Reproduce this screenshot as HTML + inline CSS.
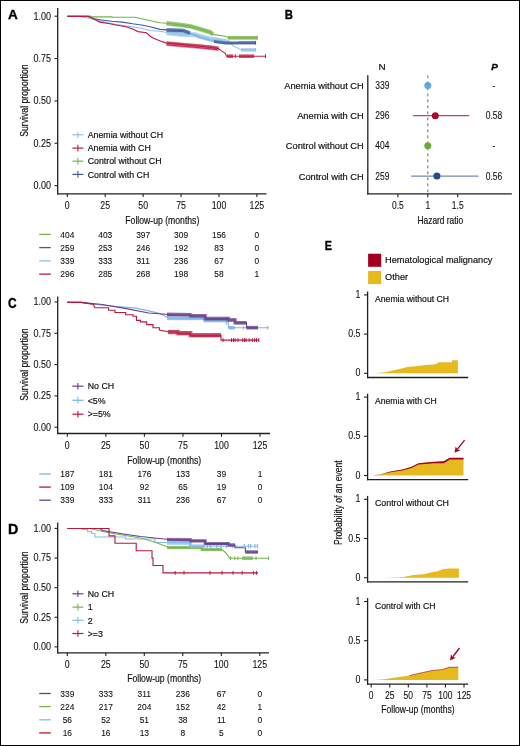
<!DOCTYPE html><html><head><meta charset="utf-8"><style>html,body{margin:0;padding:0;background:#fff;width:520px;height:746px;overflow:hidden}</style></head><body><svg width="520" height="746" viewBox="0 0 520 746" style="position:absolute;left:0;top:0;font-family:'Liberation Sans', sans-serif;will-change:transform">
<rect x="0" y="0" width="520" height="746" fill="#fff"/>
<text x="8.0" y="18.9" font-size="13.6" text-anchor="start" font-weight="bold" font-style="normal" fill="#000" stroke="#000" stroke-width="0.35" textLength="9.8" lengthAdjust="spacingAndGlyphs" >A</text>
<line x1="57.7" y1="8.0" x2="57.7" y2="194.4" stroke="#231f20" stroke-width="1.3" />
<line x1="57.1" y1="193.8" x2="266.5" y2="193.8" stroke="#231f20" stroke-width="1.3" />
<line x1="54.5" y1="16.2" x2="57.7" y2="16.2" stroke="#231f20" stroke-width="1.1" />
<text transform="translate(51.0,19.5) scale(0.85,1)" x="0" y="0" font-size="10.6" text-anchor="end" font-weight="normal" font-style="normal" fill="#111" stroke="#111" stroke-width="0.1" >1.00</text>
<line x1="54.5" y1="58.55" x2="57.7" y2="58.55" stroke="#231f20" stroke-width="1.1" />
<text transform="translate(51.0,61.849999999999994) scale(0.85,1)" x="0" y="0" font-size="10.6" text-anchor="end" font-weight="normal" font-style="normal" fill="#111" stroke="#111" stroke-width="0.1" >0.75</text>
<line x1="54.5" y1="100.9" x2="57.7" y2="100.9" stroke="#231f20" stroke-width="1.1" />
<text transform="translate(51.0,104.2) scale(0.85,1)" x="0" y="0" font-size="10.6" text-anchor="end" font-weight="normal" font-style="normal" fill="#111" stroke="#111" stroke-width="0.1" >0.50</text>
<line x1="54.5" y1="143.25" x2="57.7" y2="143.25" stroke="#231f20" stroke-width="1.1" />
<text transform="translate(51.0,146.55) scale(0.85,1)" x="0" y="0" font-size="10.6" text-anchor="end" font-weight="normal" font-style="normal" fill="#111" stroke="#111" stroke-width="0.1" >0.25</text>
<line x1="54.5" y1="185.6" x2="57.7" y2="185.6" stroke="#231f20" stroke-width="1.1" />
<text transform="translate(51.0,188.9) scale(0.85,1)" x="0" y="0" font-size="10.6" text-anchor="end" font-weight="normal" font-style="normal" fill="#111" stroke="#111" stroke-width="0.1" >0.00</text>
<line x1="67.3" y1="193.8" x2="67.3" y2="197.10000000000002" stroke="#231f20" stroke-width="1.1" />
<text transform="translate(67.3,209.20000000000002) scale(0.85,1)" x="0" y="0" font-size="10.3" text-anchor="middle" font-weight="normal" font-style="normal" fill="#111" stroke="#111" stroke-width="0.1" >0</text>
<line x1="105.22" y1="193.8" x2="105.22" y2="197.10000000000002" stroke="#231f20" stroke-width="1.1" />
<text transform="translate(105.22,209.20000000000002) scale(0.85,1)" x="0" y="0" font-size="10.3" text-anchor="middle" font-weight="normal" font-style="normal" fill="#111" stroke="#111" stroke-width="0.1" >25</text>
<line x1="143.14" y1="193.8" x2="143.14" y2="197.10000000000002" stroke="#231f20" stroke-width="1.1" />
<text transform="translate(143.14,209.20000000000002) scale(0.85,1)" x="0" y="0" font-size="10.3" text-anchor="middle" font-weight="normal" font-style="normal" fill="#111" stroke="#111" stroke-width="0.1" >50</text>
<line x1="181.05999999999997" y1="193.8" x2="181.05999999999997" y2="197.10000000000002" stroke="#231f20" stroke-width="1.1" />
<text transform="translate(181.05999999999997,209.20000000000002) scale(0.85,1)" x="0" y="0" font-size="10.3" text-anchor="middle" font-weight="normal" font-style="normal" fill="#111" stroke="#111" stroke-width="0.1" >75</text>
<line x1="218.97999999999996" y1="193.8" x2="218.97999999999996" y2="197.10000000000002" stroke="#231f20" stroke-width="1.1" />
<text transform="translate(218.97999999999996,209.20000000000002) scale(0.85,1)" x="0" y="0" font-size="10.3" text-anchor="middle" font-weight="normal" font-style="normal" fill="#111" stroke="#111" stroke-width="0.1" >100</text>
<line x1="256.9" y1="193.8" x2="256.9" y2="197.10000000000002" stroke="#231f20" stroke-width="1.1" />
<text transform="translate(256.9,209.20000000000002) scale(0.85,1)" x="0" y="0" font-size="10.3" text-anchor="middle" font-weight="normal" font-style="normal" fill="#111" stroke="#111" stroke-width="0.1" >125</text>
<text x="162.3" y="223.6" font-size="10.8" text-anchor="middle" font-weight="normal" font-style="normal" fill="#111" stroke="#111" stroke-width="0.18" textLength="74" lengthAdjust="spacingAndGlyphs" >Follow-up (months)</text>
<text transform="translate(27.5,100.6) rotate(-90)" x="0" y="0" font-size="10.1" text-anchor="middle" fill="#111" stroke="#111" stroke-width="0.18" textLength="72.4" lengthAdjust="spacingAndGlyphs">Survival proportion</text>
<line x1="39.2" y1="234.4" x2="50.8" y2="234.4" stroke="#76b34a" stroke-width="1.3" />
<text transform="translate(67.3,237.6) scale(0.85,1)" x="0" y="0" font-size="9.9" text-anchor="middle" font-weight="normal" font-style="normal" fill="#111" stroke="#111" stroke-width="0.1" >404</text>
<text transform="translate(105.22,237.6) scale(0.85,1)" x="0" y="0" font-size="9.9" text-anchor="middle" font-weight="normal" font-style="normal" fill="#111" stroke="#111" stroke-width="0.1" >403</text>
<text transform="translate(143.14,237.6) scale(0.85,1)" x="0" y="0" font-size="9.9" text-anchor="middle" font-weight="normal" font-style="normal" fill="#111" stroke="#111" stroke-width="0.1" >397</text>
<text transform="translate(181.05999999999997,237.6) scale(0.85,1)" x="0" y="0" font-size="9.9" text-anchor="middle" font-weight="normal" font-style="normal" fill="#111" stroke="#111" stroke-width="0.1" >309</text>
<text transform="translate(218.97999999999996,237.6) scale(0.85,1)" x="0" y="0" font-size="9.9" text-anchor="middle" font-weight="normal" font-style="normal" fill="#111" stroke="#111" stroke-width="0.1" >156</text>
<text transform="translate(256.9,237.6) scale(0.85,1)" x="0" y="0" font-size="9.9" text-anchor="middle" font-weight="normal" font-style="normal" fill="#111" stroke="#111" stroke-width="0.1" >0</text>
<line x1="39.2" y1="247.6" x2="50.8" y2="247.6" stroke="#3f5c99" stroke-width="1.3" />
<text transform="translate(67.3,250.79999999999998) scale(0.85,1)" x="0" y="0" font-size="9.9" text-anchor="middle" font-weight="normal" font-style="normal" fill="#111" stroke="#111" stroke-width="0.1" >259</text>
<text transform="translate(105.22,250.79999999999998) scale(0.85,1)" x="0" y="0" font-size="9.9" text-anchor="middle" font-weight="normal" font-style="normal" fill="#111" stroke="#111" stroke-width="0.1" >253</text>
<text transform="translate(143.14,250.79999999999998) scale(0.85,1)" x="0" y="0" font-size="9.9" text-anchor="middle" font-weight="normal" font-style="normal" fill="#111" stroke="#111" stroke-width="0.1" >246</text>
<text transform="translate(181.05999999999997,250.79999999999998) scale(0.85,1)" x="0" y="0" font-size="9.9" text-anchor="middle" font-weight="normal" font-style="normal" fill="#111" stroke="#111" stroke-width="0.1" >192</text>
<text transform="translate(218.97999999999996,250.79999999999998) scale(0.85,1)" x="0" y="0" font-size="9.9" text-anchor="middle" font-weight="normal" font-style="normal" fill="#111" stroke="#111" stroke-width="0.1" >83</text>
<text transform="translate(256.9,250.79999999999998) scale(0.85,1)" x="0" y="0" font-size="9.9" text-anchor="middle" font-weight="normal" font-style="normal" fill="#111" stroke="#111" stroke-width="0.1" >0</text>
<line x1="39.2" y1="260.9" x2="50.8" y2="260.9" stroke="#8fc1ea" stroke-width="1.3" />
<text transform="translate(67.3,264.09999999999997) scale(0.85,1)" x="0" y="0" font-size="9.9" text-anchor="middle" font-weight="normal" font-style="normal" fill="#111" stroke="#111" stroke-width="0.1" >339</text>
<text transform="translate(105.22,264.09999999999997) scale(0.85,1)" x="0" y="0" font-size="9.9" text-anchor="middle" font-weight="normal" font-style="normal" fill="#111" stroke="#111" stroke-width="0.1" >333</text>
<text transform="translate(143.14,264.09999999999997) scale(0.85,1)" x="0" y="0" font-size="9.9" text-anchor="middle" font-weight="normal" font-style="normal" fill="#111" stroke="#111" stroke-width="0.1" >311</text>
<text transform="translate(181.05999999999997,264.09999999999997) scale(0.85,1)" x="0" y="0" font-size="9.9" text-anchor="middle" font-weight="normal" font-style="normal" fill="#111" stroke="#111" stroke-width="0.1" >236</text>
<text transform="translate(218.97999999999996,264.09999999999997) scale(0.85,1)" x="0" y="0" font-size="9.9" text-anchor="middle" font-weight="normal" font-style="normal" fill="#111" stroke="#111" stroke-width="0.1" >67</text>
<text transform="translate(256.9,264.09999999999997) scale(0.85,1)" x="0" y="0" font-size="9.9" text-anchor="middle" font-weight="normal" font-style="normal" fill="#111" stroke="#111" stroke-width="0.1" >0</text>
<line x1="39.2" y1="274.1" x2="50.8" y2="274.1" stroke="#be1a45" stroke-width="1.3" />
<text transform="translate(67.3,277.3) scale(0.85,1)" x="0" y="0" font-size="9.9" text-anchor="middle" font-weight="normal" font-style="normal" fill="#111" stroke="#111" stroke-width="0.1" >296</text>
<text transform="translate(105.22,277.3) scale(0.85,1)" x="0" y="0" font-size="9.9" text-anchor="middle" font-weight="normal" font-style="normal" fill="#111" stroke="#111" stroke-width="0.1" >285</text>
<text transform="translate(143.14,277.3) scale(0.85,1)" x="0" y="0" font-size="9.9" text-anchor="middle" font-weight="normal" font-style="normal" fill="#111" stroke="#111" stroke-width="0.1" >268</text>
<text transform="translate(181.05999999999997,277.3) scale(0.85,1)" x="0" y="0" font-size="9.9" text-anchor="middle" font-weight="normal" font-style="normal" fill="#111" stroke="#111" stroke-width="0.1" >198</text>
<text transform="translate(218.97999999999996,277.3) scale(0.85,1)" x="0" y="0" font-size="9.9" text-anchor="middle" font-weight="normal" font-style="normal" fill="#111" stroke="#111" stroke-width="0.1" >58</text>
<text transform="translate(256.9,277.3) scale(0.85,1)" x="0" y="0" font-size="9.9" text-anchor="middle" font-weight="normal" font-style="normal" fill="#111" stroke="#111" stroke-width="0.1" >1</text>
<path d="M67.3,16.4 H91 V16.9 H112 V17.3 H135 L145,19.5 L153,21.3 L160,22.7 L167,23.2 L183,25.1 L191,26.4 L200,29 L210,32 L213,34.4 L226.5,36.4 L228,37.8 H257.5" fill="none" stroke="#76b34a" stroke-width="1.1" stroke-linejoin="miter" />
<path d="M67.3,16.4 H80 L94.6,19.5 L105,22.1 L115.4,24.2 L129.2,26.4 L141.3,28.2 L150,30.5 L160,31.3 L167,32.5 L183,34.3 L195,34.5 L200,36.2 L210,39 L218.5,39.8 L229.2,42.5 L233.3,45.9 L241.3,49.9 H256" fill="none" stroke="#8fc1ea" stroke-width="1.1" stroke-linejoin="miter" />
<path d="M67.3,16.4 H89.4 V16.9 L94.6,18.7 L101.5,20 L112,21.2 L122.3,22.1 L132.7,23.8 L143,25.2 L150,26.8 L160,29.4 L167,29.9 L183,30.5 L190,33 L200,37.5 L214.4,41.5 L225,43 H256" fill="none" stroke="#3f5c99" stroke-width="1.1" stroke-linejoin="miter" />
<path d="M67.3,16.4 H88 L91.2,17.8 L94.6,19.5 L99.8,22.1 L108.5,23.5 L117,25.2 L125.8,26.8 L132.7,29 L138,31.6 L146.5,32.8 L150,36 L153,37.9 L161,41.2 L166.5,43.1 L183,44.6 L200,46.2 L210,47.3 L218.5,48.6 L221.1,50.6 L225.2,53.3 L226.5,56.2 H266" fill="none" stroke="#be1a45" stroke-width="1.1" stroke-linejoin="miter" />
<path d="M166.5,23.4 L183,25.3 L191,26.6 L200,29.2 L210,32.2 L213,34.4" fill="none" stroke="#76b34a" stroke-width="4.6" stroke-opacity="0.5"/>
<path d="M166.5,23.4 L183,25.3 L191,26.6 L200,29.2 L210,32.2 L213,34.4" fill="none" stroke="#76b34a" stroke-width="2.53" stroke-opacity="0.55" transform="translate(0,-0.92)"/>
<path d="M166.5,23.4 L183,25.3 L191,26.6 L200,29.2 L210,32.2 L213,34.4" fill="none" stroke="#76b34a" stroke-width="0.9" transform="translate(0,1.15)"/>
<path d="M228,37.8 H257" fill="none" stroke="#76b34a" stroke-width="3.8" stroke-opacity="0.5"/>
<path d="M228,37.8 H257" fill="none" stroke="#76b34a" stroke-width="2.09" stroke-opacity="0.55" transform="translate(0,-0.76)"/>
<path d="M228,37.8 H257" fill="none" stroke="#76b34a" stroke-width="0.9" transform="translate(0,0.95)"/>
<path d="M166.5,32.7 L183,34.5 L195,34.8 L200,36.5 L210,39.2 L218.5,40.2 L229.2,42.5" fill="none" stroke="#8fc1ea" stroke-width="5.0" stroke-opacity="0.5"/>
<path d="M166.5,32.7 L183,34.5 L195,34.8 L200,36.5 L210,39.2 L218.5,40.2 L229.2,42.5" fill="none" stroke="#8fc1ea" stroke-width="2.75" stroke-opacity="0.55" transform="translate(0,-1.00)"/>
<path d="M166.5,32.7 L183,34.5 L195,34.8 L200,36.5 L210,39.2 L218.5,40.2 L229.2,42.5" fill="none" stroke="#8fc1ea" stroke-width="0.9" transform="translate(0,1.25)"/>
<path d="M241,49.9 H255.5" fill="none" stroke="#8fc1ea" stroke-width="3.4" stroke-opacity="0.5"/>
<path d="M241,49.9 H255.5" fill="none" stroke="#8fc1ea" stroke-width="1.87" stroke-opacity="0.55" transform="translate(0,-0.68)"/>
<path d="M241,49.9 H255.5" fill="none" stroke="#8fc1ea" stroke-width="0.9" transform="translate(0,0.85)"/>
<path d="M166.5,30.0 L183,30.6 L190,33" fill="none" stroke="#3f5c99" stroke-width="3.8" stroke-opacity="0.5"/>
<path d="M166.5,30.0 L183,30.6 L190,33" fill="none" stroke="#3f5c99" stroke-width="2.09" stroke-opacity="0.55" transform="translate(0,-0.76)"/>
<path d="M166.5,30.0 L183,30.6 L190,33" fill="none" stroke="#3f5c99" stroke-width="0.9" transform="translate(0,0.95)"/>
<path d="M214,41.5 L225,43 H238" fill="none" stroke="#3f5c99" stroke-width="3.0" stroke-opacity="0.5"/>
<path d="M214,41.5 L225,43 H238" fill="none" stroke="#3f5c99" stroke-width="1.65" stroke-opacity="0.55" transform="translate(0,-0.60)"/>
<path d="M214,41.5 L225,43 H238" fill="none" stroke="#3f5c99" stroke-width="0.9" transform="translate(0,0.75)"/>
<path d="M238,42.8 H255.5" fill="none" stroke="#3f5c99" stroke-width="3.4" stroke-opacity="0.5"/>
<path d="M238,42.8 H255.5" fill="none" stroke="#3f5c99" stroke-width="1.87" stroke-opacity="0.55" transform="translate(0,-0.68)"/>
<path d="M238,42.8 H255.5" fill="none" stroke="#3f5c99" stroke-width="0.9" transform="translate(0,0.85)"/>
<path d="M166.5,43.6 L183,45.1 L200,46.6 L210,47.6 L218.5,48.8" fill="none" stroke="#be1a45" stroke-width="4.6" stroke-opacity="0.5"/>
<path d="M166.5,43.6 L183,45.1 L200,46.6 L210,47.6 L218.5,48.8" fill="none" stroke="#be1a45" stroke-width="2.53" stroke-opacity="0.55" transform="translate(0,-0.92)"/>
<path d="M166.5,43.6 L183,45.1 L200,46.6 L210,47.6 L218.5,48.8" fill="none" stroke="#be1a45" stroke-width="0.9" transform="translate(0,1.15)"/>
<path d="M227,56.2 H233 M239,56.2 H254" fill="none" stroke="#be1a45" stroke-width="3.4" stroke-opacity="0.5"/>
<path d="M227,56.2 H233 M239,56.2 H254" fill="none" stroke="#be1a45" stroke-width="1.87" stroke-opacity="0.55" transform="translate(0,-0.68)"/>
<path d="M227,56.2 H233 M239,56.2 H254" fill="none" stroke="#be1a45" stroke-width="0.9" transform="translate(0,0.85)"/>
<line x1="257.3" y1="35.9" x2="257.3" y2="39.699999999999996" stroke="#76b34a" stroke-width="1.0" />
<line x1="255.6" y1="40.9" x2="255.6" y2="44.699999999999996" stroke="#3f5c99" stroke-width="1.0" />
<line x1="255.6" y1="48.0" x2="255.6" y2="51.8" stroke="#8fc1ea" stroke-width="1.0" />
<line x1="235.3" y1="54.300000000000004" x2="235.3" y2="58.1" stroke="#be1a45" stroke-width="1.0" />
<line x1="265.5" y1="54.300000000000004" x2="265.5" y2="58.1" stroke="#be1a45" stroke-width="1.0" />
<line x1="72.4" y1="134.8" x2="83.4" y2="134.8" stroke="#8fc1ea" stroke-width="1.2" />
<line x1="77.9" y1="131.5" x2="77.9" y2="138.10000000000002" stroke="#8fc1ea" stroke-width="1.1" />
<text x="87.7" y="138.0" font-size="8.8" text-anchor="start" font-weight="normal" font-style="normal" fill="#111" stroke="#111" stroke-width="0.18" >Anemia without CH</text>
<line x1="72.4" y1="148.1" x2="83.4" y2="148.1" stroke="#be1a45" stroke-width="1.2" />
<line x1="77.9" y1="144.79999999999998" x2="77.9" y2="151.4" stroke="#be1a45" stroke-width="1.1" />
<text x="87.7" y="151.29999999999998" font-size="8.8" text-anchor="start" font-weight="normal" font-style="normal" fill="#111" stroke="#111" stroke-width="0.18" >Anemia with CH</text>
<line x1="72.4" y1="161.2" x2="83.4" y2="161.2" stroke="#76b34a" stroke-width="1.2" />
<line x1="77.9" y1="157.89999999999998" x2="77.9" y2="164.5" stroke="#76b34a" stroke-width="1.1" />
<text x="87.7" y="164.39999999999998" font-size="8.8" text-anchor="start" font-weight="normal" font-style="normal" fill="#111" stroke="#111" stroke-width="0.18" >Control without CH</text>
<line x1="72.4" y1="174.4" x2="83.4" y2="174.4" stroke="#3f5c99" stroke-width="1.2" />
<line x1="77.9" y1="171.1" x2="77.9" y2="177.70000000000002" stroke="#3f5c99" stroke-width="1.1" />
<text x="87.7" y="177.6" font-size="8.8" text-anchor="start" font-weight="normal" font-style="normal" fill="#111" stroke="#111" stroke-width="0.18" >Control with CH</text>
<text x="8.0" y="307.9" font-size="14.2" text-anchor="start" font-weight="bold" font-style="normal" fill="#000" stroke="#000" stroke-width="0.35" textLength="8.6" lengthAdjust="spacingAndGlyphs" >C</text>
<line x1="57.7" y1="296.5" x2="57.7" y2="434.1" stroke="#231f20" stroke-width="1.3" />
<line x1="57.1" y1="433.5" x2="270.0" y2="433.5" stroke="#231f20" stroke-width="1.3" />
<line x1="54.5" y1="302.0" x2="57.7" y2="302.0" stroke="#231f20" stroke-width="1.1" />
<text transform="translate(51.0,305.3) scale(0.85,1)" x="0" y="0" font-size="10.6" text-anchor="end" font-weight="normal" font-style="normal" fill="#111" stroke="#111" stroke-width="0.1" >1.00</text>
<line x1="54.5" y1="333.3" x2="57.7" y2="333.3" stroke="#231f20" stroke-width="1.1" />
<text transform="translate(51.0,336.6) scale(0.85,1)" x="0" y="0" font-size="10.6" text-anchor="end" font-weight="normal" font-style="normal" fill="#111" stroke="#111" stroke-width="0.1" >0.75</text>
<line x1="54.5" y1="364.6" x2="57.7" y2="364.6" stroke="#231f20" stroke-width="1.1" />
<text transform="translate(51.0,367.90000000000003) scale(0.85,1)" x="0" y="0" font-size="10.6" text-anchor="end" font-weight="normal" font-style="normal" fill="#111" stroke="#111" stroke-width="0.1" >0.50</text>
<line x1="54.5" y1="395.9" x2="57.7" y2="395.9" stroke="#231f20" stroke-width="1.1" />
<text transform="translate(51.0,399.2) scale(0.85,1)" x="0" y="0" font-size="10.6" text-anchor="end" font-weight="normal" font-style="normal" fill="#111" stroke="#111" stroke-width="0.1" >0.25</text>
<line x1="54.5" y1="427.2" x2="57.7" y2="427.2" stroke="#231f20" stroke-width="1.1" />
<text transform="translate(51.0,430.5) scale(0.85,1)" x="0" y="0" font-size="10.6" text-anchor="end" font-weight="normal" font-style="normal" fill="#111" stroke="#111" stroke-width="0.1" >0.00</text>
<line x1="67.3" y1="433.5" x2="67.3" y2="436.8" stroke="#231f20" stroke-width="1.1" />
<text transform="translate(67.3,448.7) scale(0.85,1)" x="0" y="0" font-size="10.3" text-anchor="middle" font-weight="normal" font-style="normal" fill="#111" stroke="#111" stroke-width="0.1" >0</text>
<line x1="105.85" y1="433.5" x2="105.85" y2="436.8" stroke="#231f20" stroke-width="1.1" />
<text transform="translate(105.85,448.7) scale(0.85,1)" x="0" y="0" font-size="10.3" text-anchor="middle" font-weight="normal" font-style="normal" fill="#111" stroke="#111" stroke-width="0.1" >25</text>
<line x1="144.39999999999998" y1="433.5" x2="144.39999999999998" y2="436.8" stroke="#231f20" stroke-width="1.1" />
<text transform="translate(144.39999999999998,448.7) scale(0.85,1)" x="0" y="0" font-size="10.3" text-anchor="middle" font-weight="normal" font-style="normal" fill="#111" stroke="#111" stroke-width="0.1" >50</text>
<line x1="182.95" y1="433.5" x2="182.95" y2="436.8" stroke="#231f20" stroke-width="1.1" />
<text transform="translate(182.95,448.7) scale(0.85,1)" x="0" y="0" font-size="10.3" text-anchor="middle" font-weight="normal" font-style="normal" fill="#111" stroke="#111" stroke-width="0.1" >75</text>
<line x1="221.5" y1="433.5" x2="221.5" y2="436.8" stroke="#231f20" stroke-width="1.1" />
<text transform="translate(221.5,448.7) scale(0.85,1)" x="0" y="0" font-size="10.3" text-anchor="middle" font-weight="normal" font-style="normal" fill="#111" stroke="#111" stroke-width="0.1" >100</text>
<line x1="260.04999999999995" y1="433.5" x2="260.04999999999995" y2="436.8" stroke="#231f20" stroke-width="1.1" />
<text transform="translate(260.04999999999995,448.7) scale(0.85,1)" x="0" y="0" font-size="10.3" text-anchor="middle" font-weight="normal" font-style="normal" fill="#111" stroke="#111" stroke-width="0.1" >125</text>
<text x="164.2" y="463.5" font-size="10.8" text-anchor="middle" font-weight="normal" font-style="normal" fill="#111" stroke="#111" stroke-width="0.18" textLength="74" lengthAdjust="spacingAndGlyphs" >Follow-up (months)</text>
<text transform="translate(27.5,364.6) rotate(-90)" x="0" y="0" font-size="10.1" text-anchor="middle" fill="#111" stroke="#111" stroke-width="0.18" textLength="72.4" lengthAdjust="spacingAndGlyphs">Survival proportion</text>
<line x1="39.2" y1="474.0" x2="50.8" y2="474.0" stroke="#7ab5e6" stroke-width="1.3" />
<text transform="translate(67.3,477.2) scale(0.85,1)" x="0" y="0" font-size="9.9" text-anchor="middle" font-weight="normal" font-style="normal" fill="#111" stroke="#111" stroke-width="0.1" >187</text>
<text transform="translate(105.85,477.2) scale(0.85,1)" x="0" y="0" font-size="9.9" text-anchor="middle" font-weight="normal" font-style="normal" fill="#111" stroke="#111" stroke-width="0.1" >181</text>
<text transform="translate(144.39999999999998,477.2) scale(0.85,1)" x="0" y="0" font-size="9.9" text-anchor="middle" font-weight="normal" font-style="normal" fill="#111" stroke="#111" stroke-width="0.1" >176</text>
<text transform="translate(182.95,477.2) scale(0.85,1)" x="0" y="0" font-size="9.9" text-anchor="middle" font-weight="normal" font-style="normal" fill="#111" stroke="#111" stroke-width="0.1" >133</text>
<text transform="translate(221.5,477.2) scale(0.85,1)" x="0" y="0" font-size="9.9" text-anchor="middle" font-weight="normal" font-style="normal" fill="#111" stroke="#111" stroke-width="0.1" >39</text>
<text transform="translate(260.04999999999995,477.2) scale(0.85,1)" x="0" y="0" font-size="9.9" text-anchor="middle" font-weight="normal" font-style="normal" fill="#111" stroke="#111" stroke-width="0.1" >1</text>
<line x1="39.2" y1="487.1" x2="50.8" y2="487.1" stroke="#b8173f" stroke-width="1.3" />
<text transform="translate(67.3,490.3) scale(0.85,1)" x="0" y="0" font-size="9.9" text-anchor="middle" font-weight="normal" font-style="normal" fill="#111" stroke="#111" stroke-width="0.1" >109</text>
<text transform="translate(105.85,490.3) scale(0.85,1)" x="0" y="0" font-size="9.9" text-anchor="middle" font-weight="normal" font-style="normal" fill="#111" stroke="#111" stroke-width="0.1" >104</text>
<text transform="translate(144.39999999999998,490.3) scale(0.85,1)" x="0" y="0" font-size="9.9" text-anchor="middle" font-weight="normal" font-style="normal" fill="#111" stroke="#111" stroke-width="0.1" >92</text>
<text transform="translate(182.95,490.3) scale(0.85,1)" x="0" y="0" font-size="9.9" text-anchor="middle" font-weight="normal" font-style="normal" fill="#111" stroke="#111" stroke-width="0.1" >65</text>
<text transform="translate(221.5,490.3) scale(0.85,1)" x="0" y="0" font-size="9.9" text-anchor="middle" font-weight="normal" font-style="normal" fill="#111" stroke="#111" stroke-width="0.1" >19</text>
<text transform="translate(260.04999999999995,490.3) scale(0.85,1)" x="0" y="0" font-size="9.9" text-anchor="middle" font-weight="normal" font-style="normal" fill="#111" stroke="#111" stroke-width="0.1" >0</text>
<line x1="39.2" y1="500.2" x2="50.8" y2="500.2" stroke="#673f8c" stroke-width="1.3" />
<text transform="translate(67.3,503.4) scale(0.85,1)" x="0" y="0" font-size="9.9" text-anchor="middle" font-weight="normal" font-style="normal" fill="#111" stroke="#111" stroke-width="0.1" >339</text>
<text transform="translate(105.85,503.4) scale(0.85,1)" x="0" y="0" font-size="9.9" text-anchor="middle" font-weight="normal" font-style="normal" fill="#111" stroke="#111" stroke-width="0.1" >333</text>
<text transform="translate(144.39999999999998,503.4) scale(0.85,1)" x="0" y="0" font-size="9.9" text-anchor="middle" font-weight="normal" font-style="normal" fill="#111" stroke="#111" stroke-width="0.1" >311</text>
<text transform="translate(182.95,503.4) scale(0.85,1)" x="0" y="0" font-size="9.9" text-anchor="middle" font-weight="normal" font-style="normal" fill="#111" stroke="#111" stroke-width="0.1" >236</text>
<text transform="translate(221.5,503.4) scale(0.85,1)" x="0" y="0" font-size="9.9" text-anchor="middle" font-weight="normal" font-style="normal" fill="#111" stroke="#111" stroke-width="0.1" >67</text>
<text transform="translate(260.04999999999995,503.4) scale(0.85,1)" x="0" y="0" font-size="9.9" text-anchor="middle" font-weight="normal" font-style="normal" fill="#111" stroke="#111" stroke-width="0.1" >0</text>
<path d="M67.3,302.4 H81 L102.3,305.2 L136,308.1 L148.8,310.9 L160,313.5 L169,318.3 L205,318.3 V320.5 H228.4 V327.7 H268.7" fill="none" stroke="#7ab5e6" stroke-width="1.1" stroke-linejoin="miter" />
<path d="M67.3,302.4 H81 L102.3,304.5 L123.5,308.1 L148.8,313 L169,314.5 L190.4,314.8 V315.9 H205.2 V318.6 H228.5 V320 H235 V322.8 H246.5 V327.7 H258" fill="none" stroke="#673f8c" stroke-width="1.1" stroke-linejoin="miter" />
<path d="M67.3,302.4 H81 L93.8,304.5 V305.5 L95,307.8 H108.6 V310.2 H115 V312.5 H125.6 V314.7 H133 V316.2 H136.5 V320.4 H140.4 V321.9 H146.7 V324.6 H153 V327.8 H159.4 V330 L169,332 H177.7 V333.2 H190.4 V335.3 H221 V340.1 H259" fill="none" stroke="#b8173f" stroke-width="1.1" stroke-linejoin="miter" />
<path d="M167,318.3 H205 V320.5 H228" fill="none" stroke="#7ab5e6" stroke-width="3.8" stroke-opacity="0.5"/>
<path d="M167,318.3 H205 V320.5 H228" fill="none" stroke="#7ab5e6" stroke-width="2.09" stroke-opacity="0.55" transform="translate(0,-0.76)"/>
<path d="M167,318.3 H205 V320.5 H228" fill="none" stroke="#7ab5e6" stroke-width="0.9" transform="translate(0,0.95)"/>
<path d="M228.5,327.7 H235" fill="none" stroke="#7ab5e6" stroke-width="3.4" stroke-opacity="0.5"/>
<path d="M228.5,327.7 H235" fill="none" stroke="#7ab5e6" stroke-width="1.87" stroke-opacity="0.55" transform="translate(0,-0.68)"/>
<path d="M228.5,327.7 H235" fill="none" stroke="#7ab5e6" stroke-width="0.9" transform="translate(0,0.85)"/>
<line x1="226.4" y1="320.90000000000003" x2="226.4" y2="324.7" stroke="#7ab5e6" stroke-width="1.0" />
<line x1="243.3" y1="325.8" x2="243.3" y2="329.59999999999997" stroke="#7ab5e6" stroke-width="1.0" />
<path d="M167,314.5 L190.4,314.8 V315.9 H205.2 V318.6 H228.5 V320 H235 V322.8 H246.5 M246.5,327.7 H258" fill="none" stroke="#673f8c" stroke-width="3.8" stroke-opacity="0.5"/>
<path d="M167,314.5 L190.4,314.8 V315.9 H205.2 V318.6 H228.5 V320 H235 V322.8 H246.5 M246.5,327.7 H258" fill="none" stroke="#673f8c" stroke-width="2.09" stroke-opacity="0.55" transform="translate(0,-0.76)"/>
<path d="M167,314.5 L190.4,314.8 V315.9 H205.2 V318.6 H228.5 V320 H235 V322.8 H246.5 M246.5,327.7 H258" fill="none" stroke="#673f8c" stroke-width="0.9" transform="translate(0,0.95)"/>
<path d="M167.9,332 H177.7 V333.2 H190.4 V335.3 H221" fill="none" stroke="#b8173f" stroke-width="4.4" stroke-opacity="0.5"/>
<path d="M167.9,332 H177.7 V333.2 H190.4 V335.3 H221" fill="none" stroke="#b8173f" stroke-width="2.42" stroke-opacity="0.55" transform="translate(0,-0.88)"/>
<path d="M167.9,332 H177.7 V333.2 H190.4 V335.3 H221" fill="none" stroke="#b8173f" stroke-width="0.9" transform="translate(0,1.10)"/>
<line x1="223" y1="338.20000000000005" x2="223" y2="342.0" stroke="#b8173f" stroke-width="1.0" />
<line x1="231.5" y1="338.20000000000005" x2="231.5" y2="342.0" stroke="#b8173f" stroke-width="1.0" />
<line x1="233.5" y1="338.20000000000005" x2="233.5" y2="342.0" stroke="#b8173f" stroke-width="1.0" />
<line x1="235" y1="338.20000000000005" x2="235" y2="342.0" stroke="#b8173f" stroke-width="1.0" />
<line x1="238" y1="338.20000000000005" x2="238" y2="342.0" stroke="#b8173f" stroke-width="1.0" />
<line x1="242.7" y1="338.20000000000005" x2="242.7" y2="342.0" stroke="#b8173f" stroke-width="1.0" />
<line x1="244.5" y1="338.20000000000005" x2="244.5" y2="342.0" stroke="#b8173f" stroke-width="1.0" />
<line x1="246" y1="338.20000000000005" x2="246" y2="342.0" stroke="#b8173f" stroke-width="1.0" />
<line x1="249.2" y1="338.20000000000005" x2="249.2" y2="342.0" stroke="#b8173f" stroke-width="1.0" />
<line x1="252.3" y1="338.20000000000005" x2="252.3" y2="342.0" stroke="#b8173f" stroke-width="1.0" />
<line x1="254.6" y1="338.20000000000005" x2="254.6" y2="342.0" stroke="#b8173f" stroke-width="1.0" />
<line x1="256.5" y1="338.20000000000005" x2="256.5" y2="342.0" stroke="#b8173f" stroke-width="1.0" />
<line x1="258.8" y1="338.20000000000005" x2="258.8" y2="342.0" stroke="#b8173f" stroke-width="1.0" />
<line x1="267.7" y1="325.8" x2="267.7" y2="329.59999999999997" stroke="#7ab5e6" stroke-width="1.0" />
<line x1="231" y1="325.8" x2="231" y2="329.59999999999997" stroke="#7ab5e6" stroke-width="1.0" />
<line x1="72.4" y1="386.2" x2="83.4" y2="386.2" stroke="#673f8c" stroke-width="1.2" />
<line x1="77.9" y1="382.9" x2="77.9" y2="389.5" stroke="#673f8c" stroke-width="1.1" />
<text x="87.7" y="389.4" font-size="8.8" text-anchor="start" font-weight="normal" font-style="normal" fill="#111" stroke="#111" stroke-width="0.18" >No CH</text>
<line x1="72.4" y1="400.3" x2="83.4" y2="400.3" stroke="#7ab5e6" stroke-width="1.2" />
<line x1="77.9" y1="397.0" x2="77.9" y2="403.6" stroke="#7ab5e6" stroke-width="1.1" />
<text x="87.7" y="403.5" font-size="8.8" text-anchor="start" font-weight="normal" font-style="normal" fill="#111" stroke="#111" stroke-width="0.18" >&lt;5%</text>
<line x1="72.4" y1="414.2" x2="83.4" y2="414.2" stroke="#b8173f" stroke-width="1.2" />
<line x1="77.9" y1="410.9" x2="77.9" y2="417.5" stroke="#b8173f" stroke-width="1.1" />
<text x="87.7" y="417.4" font-size="8.8" text-anchor="start" font-weight="normal" font-style="normal" fill="#111" stroke="#111" stroke-width="0.18" >&gt;=5%</text>
<text x="8.0" y="533.7" font-size="14.2" text-anchor="start" font-weight="bold" font-style="normal" fill="#000" stroke="#000" stroke-width="0.35" >D</text>
<line x1="57.7" y1="522.4" x2="57.7" y2="653.4" stroke="#231f20" stroke-width="1.3" />
<line x1="57.1" y1="652.8" x2="269.0" y2="652.8" stroke="#231f20" stroke-width="1.3" />
<line x1="54.5" y1="528.4" x2="57.7" y2="528.4" stroke="#231f20" stroke-width="1.1" />
<text transform="translate(51.0,531.6999999999999) scale(0.85,1)" x="0" y="0" font-size="10.6" text-anchor="end" font-weight="normal" font-style="normal" fill="#111" stroke="#111" stroke-width="0.1" >1.00</text>
<line x1="54.5" y1="558.025" x2="57.7" y2="558.025" stroke="#231f20" stroke-width="1.1" />
<text transform="translate(51.0,561.3249999999999) scale(0.85,1)" x="0" y="0" font-size="10.6" text-anchor="end" font-weight="normal" font-style="normal" fill="#111" stroke="#111" stroke-width="0.1" >0.75</text>
<line x1="54.5" y1="587.65" x2="57.7" y2="587.65" stroke="#231f20" stroke-width="1.1" />
<text transform="translate(51.0,590.9499999999999) scale(0.85,1)" x="0" y="0" font-size="10.6" text-anchor="end" font-weight="normal" font-style="normal" fill="#111" stroke="#111" stroke-width="0.1" >0.50</text>
<line x1="54.5" y1="617.275" x2="57.7" y2="617.275" stroke="#231f20" stroke-width="1.1" />
<text transform="translate(51.0,620.5749999999999) scale(0.85,1)" x="0" y="0" font-size="10.6" text-anchor="end" font-weight="normal" font-style="normal" fill="#111" stroke="#111" stroke-width="0.1" >0.25</text>
<line x1="54.5" y1="646.9" x2="57.7" y2="646.9" stroke="#231f20" stroke-width="1.1" />
<text transform="translate(51.0,650.1999999999999) scale(0.85,1)" x="0" y="0" font-size="10.6" text-anchor="end" font-weight="normal" font-style="normal" fill="#111" stroke="#111" stroke-width="0.1" >0.00</text>
<line x1="67.3" y1="652.8" x2="67.3" y2="656.0999999999999" stroke="#231f20" stroke-width="1.1" />
<text transform="translate(67.3,668.3) scale(0.85,1)" x="0" y="0" font-size="10.3" text-anchor="middle" font-weight="normal" font-style="normal" fill="#111" stroke="#111" stroke-width="0.1" >0</text>
<line x1="105.8" y1="652.8" x2="105.8" y2="656.0999999999999" stroke="#231f20" stroke-width="1.1" />
<text transform="translate(105.8,668.3) scale(0.85,1)" x="0" y="0" font-size="10.3" text-anchor="middle" font-weight="normal" font-style="normal" fill="#111" stroke="#111" stroke-width="0.1" >25</text>
<line x1="144.3" y1="652.8" x2="144.3" y2="656.0999999999999" stroke="#231f20" stroke-width="1.1" />
<text transform="translate(144.3,668.3) scale(0.85,1)" x="0" y="0" font-size="10.3" text-anchor="middle" font-weight="normal" font-style="normal" fill="#111" stroke="#111" stroke-width="0.1" >50</text>
<line x1="182.8" y1="652.8" x2="182.8" y2="656.0999999999999" stroke="#231f20" stroke-width="1.1" />
<text transform="translate(182.8,668.3) scale(0.85,1)" x="0" y="0" font-size="10.3" text-anchor="middle" font-weight="normal" font-style="normal" fill="#111" stroke="#111" stroke-width="0.1" >75</text>
<line x1="221.3" y1="652.8" x2="221.3" y2="656.0999999999999" stroke="#231f20" stroke-width="1.1" />
<text transform="translate(221.3,668.3) scale(0.85,1)" x="0" y="0" font-size="10.3" text-anchor="middle" font-weight="normal" font-style="normal" fill="#111" stroke="#111" stroke-width="0.1" >100</text>
<line x1="259.8" y1="652.8" x2="259.8" y2="656.0999999999999" stroke="#231f20" stroke-width="1.1" />
<text transform="translate(259.8,668.3) scale(0.85,1)" x="0" y="0" font-size="10.3" text-anchor="middle" font-weight="normal" font-style="normal" fill="#111" stroke="#111" stroke-width="0.1" >125</text>
<text x="164.2" y="681.8" font-size="10.8" text-anchor="middle" font-weight="normal" font-style="normal" fill="#111" stroke="#111" stroke-width="0.18" textLength="74" lengthAdjust="spacingAndGlyphs" >Follow-up (months)</text>
<text transform="translate(27.5,587.6) rotate(-90)" x="0" y="0" font-size="10.1" text-anchor="middle" fill="#111" stroke="#111" stroke-width="0.18" textLength="72.4" lengthAdjust="spacingAndGlyphs">Survival proportion</text>
<line x1="39.2" y1="693.5" x2="50.8" y2="693.5" stroke="#673f8c" stroke-width="1.3" />
<text transform="translate(67.3,696.7) scale(0.85,1)" x="0" y="0" font-size="9.9" text-anchor="middle" font-weight="normal" font-style="normal" fill="#111" stroke="#111" stroke-width="0.1" >339</text>
<text transform="translate(105.8,696.7) scale(0.85,1)" x="0" y="0" font-size="9.9" text-anchor="middle" font-weight="normal" font-style="normal" fill="#111" stroke="#111" stroke-width="0.1" >333</text>
<text transform="translate(144.3,696.7) scale(0.85,1)" x="0" y="0" font-size="9.9" text-anchor="middle" font-weight="normal" font-style="normal" fill="#111" stroke="#111" stroke-width="0.1" >311</text>
<text transform="translate(182.8,696.7) scale(0.85,1)" x="0" y="0" font-size="9.9" text-anchor="middle" font-weight="normal" font-style="normal" fill="#111" stroke="#111" stroke-width="0.1" >236</text>
<text transform="translate(221.3,696.7) scale(0.85,1)" x="0" y="0" font-size="9.9" text-anchor="middle" font-weight="normal" font-style="normal" fill="#111" stroke="#111" stroke-width="0.1" >67</text>
<text transform="translate(259.8,696.7) scale(0.85,1)" x="0" y="0" font-size="9.9" text-anchor="middle" font-weight="normal" font-style="normal" fill="#111" stroke="#111" stroke-width="0.1" >0</text>
<line x1="39.2" y1="706.6" x2="50.8" y2="706.6" stroke="#78b54c" stroke-width="1.3" />
<text transform="translate(67.3,709.8000000000001) scale(0.85,1)" x="0" y="0" font-size="9.9" text-anchor="middle" font-weight="normal" font-style="normal" fill="#111" stroke="#111" stroke-width="0.1" >224</text>
<text transform="translate(105.8,709.8000000000001) scale(0.85,1)" x="0" y="0" font-size="9.9" text-anchor="middle" font-weight="normal" font-style="normal" fill="#111" stroke="#111" stroke-width="0.1" >217</text>
<text transform="translate(144.3,709.8000000000001) scale(0.85,1)" x="0" y="0" font-size="9.9" text-anchor="middle" font-weight="normal" font-style="normal" fill="#111" stroke="#111" stroke-width="0.1" >204</text>
<text transform="translate(182.8,709.8000000000001) scale(0.85,1)" x="0" y="0" font-size="9.9" text-anchor="middle" font-weight="normal" font-style="normal" fill="#111" stroke="#111" stroke-width="0.1" >152</text>
<text transform="translate(221.3,709.8000000000001) scale(0.85,1)" x="0" y="0" font-size="9.9" text-anchor="middle" font-weight="normal" font-style="normal" fill="#111" stroke="#111" stroke-width="0.1" >42</text>
<text transform="translate(259.8,709.8000000000001) scale(0.85,1)" x="0" y="0" font-size="9.9" text-anchor="middle" font-weight="normal" font-style="normal" fill="#111" stroke="#111" stroke-width="0.1" >1</text>
<line x1="39.2" y1="719.8" x2="50.8" y2="719.8" stroke="#86bdea" stroke-width="1.3" />
<text transform="translate(67.3,723.0) scale(0.85,1)" x="0" y="0" font-size="9.9" text-anchor="middle" font-weight="normal" font-style="normal" fill="#111" stroke="#111" stroke-width="0.1" >56</text>
<text transform="translate(105.8,723.0) scale(0.85,1)" x="0" y="0" font-size="9.9" text-anchor="middle" font-weight="normal" font-style="normal" fill="#111" stroke="#111" stroke-width="0.1" >52</text>
<text transform="translate(144.3,723.0) scale(0.85,1)" x="0" y="0" font-size="9.9" text-anchor="middle" font-weight="normal" font-style="normal" fill="#111" stroke="#111" stroke-width="0.1" >51</text>
<text transform="translate(182.8,723.0) scale(0.85,1)" x="0" y="0" font-size="9.9" text-anchor="middle" font-weight="normal" font-style="normal" fill="#111" stroke="#111" stroke-width="0.1" >38</text>
<text transform="translate(221.3,723.0) scale(0.85,1)" x="0" y="0" font-size="9.9" text-anchor="middle" font-weight="normal" font-style="normal" fill="#111" stroke="#111" stroke-width="0.1" >11</text>
<text transform="translate(259.8,723.0) scale(0.85,1)" x="0" y="0" font-size="9.9" text-anchor="middle" font-weight="normal" font-style="normal" fill="#111" stroke="#111" stroke-width="0.1" >0</text>
<line x1="39.2" y1="732.9" x2="50.8" y2="732.9" stroke="#b8173f" stroke-width="1.3" />
<text transform="translate(67.3,736.1) scale(0.85,1)" x="0" y="0" font-size="9.9" text-anchor="middle" font-weight="normal" font-style="normal" fill="#111" stroke="#111" stroke-width="0.1" >16</text>
<text transform="translate(105.8,736.1) scale(0.85,1)" x="0" y="0" font-size="9.9" text-anchor="middle" font-weight="normal" font-style="normal" fill="#111" stroke="#111" stroke-width="0.1" >16</text>
<text transform="translate(144.3,736.1) scale(0.85,1)" x="0" y="0" font-size="9.9" text-anchor="middle" font-weight="normal" font-style="normal" fill="#111" stroke="#111" stroke-width="0.1" >13</text>
<text transform="translate(182.8,736.1) scale(0.85,1)" x="0" y="0" font-size="9.9" text-anchor="middle" font-weight="normal" font-style="normal" fill="#111" stroke="#111" stroke-width="0.1" >8</text>
<text transform="translate(221.3,736.1) scale(0.85,1)" x="0" y="0" font-size="9.9" text-anchor="middle" font-weight="normal" font-style="normal" fill="#111" stroke="#111" stroke-width="0.1" >5</text>
<text transform="translate(259.8,736.1) scale(0.85,1)" x="0" y="0" font-size="9.9" text-anchor="middle" font-weight="normal" font-style="normal" fill="#111" stroke="#111" stroke-width="0.1" >0</text>
<path d="M67.3,528.5 H82.2 V529.5 H87.5 V531.6 H91.7 V533.5 H94.9 V537 H125.6 V539 H155 V542.5 H190.4 V546.2 H258" fill="none" stroke="#86bdea" stroke-width="1.1" stroke-linejoin="miter" />
<path d="M67.3,528.5 H90 L108.7,532.7 L140.4,538 L155.2,542.2 L169,547.5 H202 V549.5 H222 L226,553 L229,557 V558.2 H268.7" fill="none" stroke="#78b54c" stroke-width="1.1" stroke-linejoin="miter" />
<path d="M67.3,528.5 H100 L102.3,530.5 L123.5,534 L140.4,536.5 L169,539.5 L190.4,539.8 V540.9 H205.2 V543.6 H228.5 V545 H235 V547.8 H245.4 V552 H258" fill="none" stroke="#673f8c" stroke-width="1.1" stroke-linejoin="miter" />
<path d="M67.3,528.5 H109 V535.9 H115 V543.3 H136.2 V550.7 H152 V558.1 H153 V565.5 H163 V572.9 H258" fill="none" stroke="#b8173f" stroke-width="1.1" stroke-linejoin="miter" />
<path d="M167,547.5 H202 V549.5 H222" fill="none" stroke="#78b54c" stroke-width="3.4" stroke-opacity="0.5"/>
<path d="M167,547.5 H202 V549.5 H222" fill="none" stroke="#78b54c" stroke-width="1.87" stroke-opacity="0.55" transform="translate(0,-0.68)"/>
<path d="M167,547.5 H202 V549.5 H222" fill="none" stroke="#78b54c" stroke-width="0.9" transform="translate(0,0.85)"/>
<path d="M242.2,558.2 H252.8" fill="none" stroke="#78b54c" stroke-width="3.6" stroke-opacity="0.5"/>
<path d="M242.2,558.2 H252.8" fill="none" stroke="#78b54c" stroke-width="1.98" stroke-opacity="0.55" transform="translate(0,-0.72)"/>
<path d="M242.2,558.2 H252.8" fill="none" stroke="#78b54c" stroke-width="0.9" transform="translate(0,0.90)"/>
<line x1="230.6" y1="556.3000000000001" x2="230.6" y2="560.1" stroke="#78b54c" stroke-width="1.0" />
<line x1="234.8" y1="556.3000000000001" x2="234.8" y2="560.1" stroke="#78b54c" stroke-width="1.0" />
<line x1="238" y1="556.3000000000001" x2="238" y2="560.1" stroke="#78b54c" stroke-width="1.0" />
<line x1="256" y1="556.3000000000001" x2="256" y2="560.1" stroke="#78b54c" stroke-width="1.0" />
<path d="M167,543 H190.4 V546.2 H205" fill="none" stroke="#86bdea" stroke-width="3.6" stroke-opacity="0.5"/>
<path d="M167,543 H190.4 V546.2 H205" fill="none" stroke="#86bdea" stroke-width="1.98" stroke-opacity="0.55" transform="translate(0,-0.72)"/>
<path d="M167,543 H190.4 V546.2 H205" fill="none" stroke="#86bdea" stroke-width="0.9" transform="translate(0,0.90)"/>
<line x1="207.3" y1="544.1" x2="207.3" y2="548.3000000000001" stroke="#86bdea" stroke-width="1.3" />
<line x1="210.5" y1="544.1" x2="210.5" y2="548.3000000000001" stroke="#86bdea" stroke-width="1.3" />
<line x1="216.8" y1="544.1" x2="216.8" y2="548.3000000000001" stroke="#86bdea" stroke-width="1.3" />
<line x1="221" y1="544.1" x2="221" y2="548.3000000000001" stroke="#86bdea" stroke-width="1.3" />
<line x1="226.3" y1="544.1" x2="226.3" y2="548.3000000000001" stroke="#86bdea" stroke-width="1.3" />
<line x1="232.7" y1="544.1" x2="232.7" y2="548.3000000000001" stroke="#86bdea" stroke-width="1.3" />
<line x1="244.3" y1="544.1" x2="244.3" y2="548.3000000000001" stroke="#86bdea" stroke-width="1.3" />
<line x1="248.6" y1="544.1" x2="248.6" y2="548.3000000000001" stroke="#86bdea" stroke-width="1.3" />
<line x1="250.7" y1="544.1" x2="250.7" y2="548.3000000000001" stroke="#86bdea" stroke-width="1.3" />
<line x1="254.9" y1="544.1" x2="254.9" y2="548.3000000000001" stroke="#86bdea" stroke-width="1.3" />
<line x1="257.5" y1="544.1" x2="257.5" y2="548.3000000000001" stroke="#86bdea" stroke-width="1.3" />
<path d="M167,539.5 L190.4,539.8 V540.9 H205.2 V543.6 H228.5 V545 H235 M245.4,552 H258" fill="none" stroke="#673f8c" stroke-width="3.4" stroke-opacity="0.5"/>
<path d="M167,539.5 L190.4,539.8 V540.9 H205.2 V543.6 H228.5 V545 H235 M245.4,552 H258" fill="none" stroke="#673f8c" stroke-width="1.87" stroke-opacity="0.55" transform="translate(0,-0.68)"/>
<path d="M167,539.5 L190.4,539.8 V540.9 H205.2 V543.6 H228.5 V545 H235 M245.4,552 H258" fill="none" stroke="#673f8c" stroke-width="0.9" transform="translate(0,0.85)"/>
<line x1="175.2" y1="571.0" x2="175.2" y2="574.8" stroke="#b8173f" stroke-width="1.0" />
<line x1="184" y1="571.0" x2="184" y2="574.8" stroke="#b8173f" stroke-width="1.0" />
<line x1="210" y1="571.0" x2="210" y2="574.8" stroke="#b8173f" stroke-width="1.0" />
<line x1="222.1" y1="571.0" x2="222.1" y2="574.8" stroke="#b8173f" stroke-width="1.0" />
<line x1="233.1" y1="571.0" x2="233.1" y2="574.8" stroke="#b8173f" stroke-width="1.0" />
<line x1="242.2" y1="571.0" x2="242.2" y2="574.8" stroke="#b8173f" stroke-width="1.0" />
<line x1="253.4" y1="571.0" x2="253.4" y2="574.8" stroke="#b8173f" stroke-width="1.0" />
<line x1="256.4" y1="571.0" x2="256.4" y2="574.8" stroke="#b8173f" stroke-width="1.0" />
<line x1="268.5" y1="556.3000000000001" x2="268.5" y2="560.1" stroke="#78b54c" stroke-width="1.0" />
<line x1="72.4" y1="593.8" x2="83.4" y2="593.8" stroke="#673f8c" stroke-width="1.2" />
<line x1="77.9" y1="590.5" x2="77.9" y2="597.0999999999999" stroke="#673f8c" stroke-width="1.1" />
<text x="87.7" y="597.0" font-size="8.8" text-anchor="start" font-weight="normal" font-style="normal" fill="#111" stroke="#111" stroke-width="0.18" >No CH</text>
<line x1="72.4" y1="607.1" x2="83.4" y2="607.1" stroke="#78b54c" stroke-width="1.2" />
<line x1="77.9" y1="603.8000000000001" x2="77.9" y2="610.4" stroke="#78b54c" stroke-width="1.1" />
<text x="87.7" y="610.3000000000001" font-size="8.8" text-anchor="start" font-weight="normal" font-style="normal" fill="#111" stroke="#111" stroke-width="0.18" >1</text>
<line x1="72.4" y1="620.3" x2="83.4" y2="620.3" stroke="#86bdea" stroke-width="1.2" />
<line x1="77.9" y1="617.0" x2="77.9" y2="623.5999999999999" stroke="#86bdea" stroke-width="1.1" />
<text x="87.7" y="623.5" font-size="8.8" text-anchor="start" font-weight="normal" font-style="normal" fill="#111" stroke="#111" stroke-width="0.18" >2</text>
<line x1="72.4" y1="633.5" x2="83.4" y2="633.5" stroke="#b8173f" stroke-width="1.2" />
<line x1="77.9" y1="630.2" x2="77.9" y2="636.8" stroke="#b8173f" stroke-width="1.1" />
<text x="87.7" y="636.7" font-size="8.8" text-anchor="start" font-weight="normal" font-style="normal" fill="#111" stroke="#111" stroke-width="0.18" >&gt;=3</text>
<text x="284.8" y="18.7" font-size="13.6" text-anchor="start" font-weight="bold" font-style="normal" fill="#000" stroke="#000" stroke-width="0.35" textLength="8.2" lengthAdjust="spacingAndGlyphs" >B</text>
<line x1="367.8" y1="75.2" x2="367.8" y2="194.4" stroke="#231f20" stroke-width="1.3" />
<line x1="367.2" y1="193.9" x2="511.8" y2="193.9" stroke="#231f20" stroke-width="1.3" />
<line x1="427.8" y1="75.5" x2="427.8" y2="193.5" stroke="#8a8a8a" stroke-width="1.3" stroke-dasharray="2.8 3.2"/>
<line x1="397.9" y1="193.9" x2="397.9" y2="197.2" stroke="#231f20" stroke-width="1.1" />
<text transform="translate(397.9,208.7) scale(0.85,1)" x="0" y="0" font-size="10.0" text-anchor="middle" font-weight="normal" font-style="normal" fill="#111" stroke="#111" stroke-width="0.1" >0.5</text>
<line x1="427.8" y1="193.9" x2="427.8" y2="197.2" stroke="#231f20" stroke-width="1.1" />
<text transform="translate(427.8,208.7) scale(0.85,1)" x="0" y="0" font-size="10.0" text-anchor="middle" font-weight="normal" font-style="normal" fill="#111" stroke="#111" stroke-width="0.1" >1</text>
<line x1="457.7" y1="193.9" x2="457.7" y2="197.2" stroke="#231f20" stroke-width="1.1" />
<text transform="translate(457.7,208.7) scale(0.85,1)" x="0" y="0" font-size="10.0" text-anchor="middle" font-weight="normal" font-style="normal" fill="#111" stroke="#111" stroke-width="0.1" >1.5</text>
<text x="440.3" y="223.7" font-size="10.1" text-anchor="middle" font-weight="normal" font-style="normal" fill="#111" stroke="#111" stroke-width="0.18" textLength="45.6" lengthAdjust="spacingAndGlyphs" >Hazard ratio</text>
<text x="382.1" y="70.1" font-size="9.9" text-anchor="middle" font-weight="normal" font-style="normal" fill="#111" stroke="#111" stroke-width="0.18" >N</text>
<text x="494.4" y="69.6" font-size="9.8" text-anchor="middle" font-weight="bold" font-style="italic" fill="#000" stroke="#000" stroke-width="0.35" >P</text>
<text x="363.8" y="88.80000000000001" font-size="9.3" text-anchor="end" font-weight="normal" font-style="normal" fill="#111" stroke="#111" stroke-width="0.18" >Anemia without CH</text>
<text transform="translate(375.3,88.80000000000001) scale(0.83,1)" x="0" y="0" font-size="10.2" text-anchor="start" font-weight="normal" font-style="normal" fill="#111" stroke="#111" stroke-width="0.1" >339</text>
<text transform="translate(494.0,88.80000000000001) scale(0.83,1)" x="0" y="0" font-size="10.2" text-anchor="middle" font-weight="normal" font-style="normal" fill="#111" stroke="#111" stroke-width="0.1" >-</text>
<text x="363.8" y="119.10000000000001" font-size="9.3" text-anchor="end" font-weight="normal" font-style="normal" fill="#111" stroke="#111" stroke-width="0.18" >Anemia with CH</text>
<text transform="translate(375.3,119.10000000000001) scale(0.83,1)" x="0" y="0" font-size="10.2" text-anchor="start" font-weight="normal" font-style="normal" fill="#111" stroke="#111" stroke-width="0.1" >296</text>
<text transform="translate(494.0,119.10000000000001) scale(0.83,1)" x="0" y="0" font-size="10.2" text-anchor="middle" font-weight="normal" font-style="normal" fill="#111" stroke="#111" stroke-width="0.1" >0.58</text>
<text x="363.8" y="149.20000000000002" font-size="9.3" text-anchor="end" font-weight="normal" font-style="normal" fill="#111" stroke="#111" stroke-width="0.18" >Control without CH</text>
<text transform="translate(375.3,149.20000000000002) scale(0.83,1)" x="0" y="0" font-size="10.2" text-anchor="start" font-weight="normal" font-style="normal" fill="#111" stroke="#111" stroke-width="0.1" >404</text>
<text transform="translate(494.0,149.20000000000002) scale(0.83,1)" x="0" y="0" font-size="10.2" text-anchor="middle" font-weight="normal" font-style="normal" fill="#111" stroke="#111" stroke-width="0.1" >-</text>
<text x="363.8" y="179.5" font-size="9.3" text-anchor="end" font-weight="normal" font-style="normal" fill="#111" stroke="#111" stroke-width="0.18" >Control with CH</text>
<text transform="translate(375.3,179.5) scale(0.83,1)" x="0" y="0" font-size="10.2" text-anchor="start" font-weight="normal" font-style="normal" fill="#111" stroke="#111" stroke-width="0.1" >259</text>
<text transform="translate(494.0,179.5) scale(0.83,1)" x="0" y="0" font-size="10.2" text-anchor="middle" font-weight="normal" font-style="normal" fill="#111" stroke="#111" stroke-width="0.1" >0.56</text>
<line x1="412.9" y1="115.7" x2="469.2" y2="115.7" stroke="#c4405f" stroke-width="1.2" />
<line x1="411.2" y1="176.1" x2="478.5" y2="176.1" stroke="#7289b8" stroke-width="1.3" />
<circle cx="427.8" cy="85.5" r="3.5" fill="#66a7dd"/>
<circle cx="435.3" cy="115.7" r="3.5" fill="#a50a2c"/>
<circle cx="427.8" cy="145.8" r="3.5" fill="#6aaa3c"/>
<circle cx="436.9" cy="176.1" r="3.5" fill="#274a87"/>
<text x="324.8" y="249.9" font-size="13.0" text-anchor="start" font-weight="bold" font-style="normal" fill="#000" stroke="#000" stroke-width="0.35" textLength="7.2" lengthAdjust="spacingAndGlyphs" >E</text>
<rect x="368.1" y="253.7" width="13.1" height="13.1" fill="#a3001f"/>
<rect x="368.1" y="271.0" width="13.1" height="13.1" fill="#e6b91e"/>
<text x="385.1" y="263.4" font-size="9.2" text-anchor="start" font-weight="normal" font-style="normal" fill="#111" stroke="#111" stroke-width="0.18" textLength="107.3" lengthAdjust="spacingAndGlyphs" >Hematological malignancy</text>
<text x="385.1" y="280.1" font-size="9.2" text-anchor="start" font-weight="normal" font-style="normal" fill="#111" stroke="#111" stroke-width="0.18" >Other</text>
<line x1="367.6" y1="291.5" x2="367.6" y2="378.09999999999997" stroke="#231f20" stroke-width="1.3" />
<line x1="367.0" y1="377.49999999999994" x2="468.2" y2="377.49999999999994" stroke="#231f20" stroke-width="1.3" />
<line x1="364.0" y1="294.9" x2="367.6" y2="294.9" stroke="#231f20" stroke-width="1.1" />
<text transform="translate(360.5,297.9) scale(0.85,1)" x="0" y="0" font-size="10.4" text-anchor="end" font-weight="normal" font-style="normal" fill="#111" stroke="#111" stroke-width="0.1" >1</text>
<line x1="364.0" y1="334.09999999999997" x2="367.6" y2="334.09999999999997" stroke="#231f20" stroke-width="1.1" />
<text transform="translate(360.5,337.09999999999997) scale(0.85,1)" x="0" y="0" font-size="10.4" text-anchor="end" font-weight="normal" font-style="normal" fill="#111" stroke="#111" stroke-width="0.1" >0.5</text>
<line x1="364.0" y1="373.29999999999995" x2="367.6" y2="373.29999999999995" stroke="#231f20" stroke-width="1.1" />
<text transform="translate(360.5,376.29999999999995) scale(0.85,1)" x="0" y="0" font-size="10.4" text-anchor="end" font-weight="normal" font-style="normal" fill="#111" stroke="#111" stroke-width="0.1" >0</text>
<text x="375.0" y="301.9" font-size="8.7" text-anchor="start" font-weight="normal" font-style="normal" fill="#111" stroke="#111" stroke-width="0.18" textLength="74" lengthAdjust="spacingAndGlyphs" >Anemia without CH</text>
<path d="M374.1,373.3 L385.2,372.3 L395.3,369.9 L403.4,367.9 L407.4,366.9 L415.5,366.3 L425.6,365.0 L433.7,364.6 L436.7,363.8 L438.7,362.2 L451.8,362.2 L452.2,360.2 L457.9,360.2 L457.9,373.3 Z" fill="#e6b91e"/>
<line x1="367.6" y1="393.7" x2="367.6" y2="480.3" stroke="#231f20" stroke-width="1.3" />
<line x1="367.0" y1="479.7" x2="468.2" y2="479.7" stroke="#231f20" stroke-width="1.3" />
<line x1="364.0" y1="397.09999999999997" x2="367.6" y2="397.09999999999997" stroke="#231f20" stroke-width="1.1" />
<text transform="translate(360.5,400.09999999999997) scale(0.85,1)" x="0" y="0" font-size="10.4" text-anchor="end" font-weight="normal" font-style="normal" fill="#111" stroke="#111" stroke-width="0.1" >1</text>
<line x1="364.0" y1="436.29999999999995" x2="367.6" y2="436.29999999999995" stroke="#231f20" stroke-width="1.1" />
<text transform="translate(360.5,439.29999999999995) scale(0.85,1)" x="0" y="0" font-size="10.4" text-anchor="end" font-weight="normal" font-style="normal" fill="#111" stroke="#111" stroke-width="0.1" >0.5</text>
<line x1="364.0" y1="475.5" x2="367.6" y2="475.5" stroke="#231f20" stroke-width="1.1" />
<text transform="translate(360.5,478.5) scale(0.85,1)" x="0" y="0" font-size="10.4" text-anchor="end" font-weight="normal" font-style="normal" fill="#111" stroke="#111" stroke-width="0.1" >0</text>
<text x="375.0" y="404.09999999999997" font-size="8.7" text-anchor="start" font-weight="normal" font-style="normal" fill="#111" stroke="#111" stroke-width="0.18" textLength="61.8" lengthAdjust="spacingAndGlyphs" >Anemia with CH</text>
<path d="M374.1,475.5 L381.2,474.5 L389.2,472.1 L403.4,469.5 L411.4,467.1 L418.5,463.6 L425.6,462.8 L433.7,462.0 L443.8,461.6 L445.8,460.4 L449.8,458.0 L463.5,458.0 L463.5,475.5 Z" fill="#e6b91e"/>
<path d="M374.10,475.20 L381.20,474.20 L389.20,471.80 L403.40,469.20 L411.40,466.80 L418.50,463.30 L425.60,462.50 L433.70,461.70 L443.80,461.30 L445.80,460.10 L449.80,457.70 L463.50,457.70 L463.50,459.60 L449.80,459.60 L445.80,462.00 L443.80,463.15 L433.70,463.32 L425.60,463.94 L418.50,464.57 L411.40,467.91 L403.40,470.13 L389.20,472.41 L381.20,474.62 L374.10,475.55 Z" fill="#a3001f"/>
<line x1="367.6" y1="495.9" x2="367.6" y2="582.5" stroke="#231f20" stroke-width="1.3" />
<line x1="367.0" y1="581.9" x2="468.2" y2="581.9" stroke="#231f20" stroke-width="1.3" />
<line x1="364.0" y1="499.29999999999995" x2="367.6" y2="499.29999999999995" stroke="#231f20" stroke-width="1.1" />
<text transform="translate(360.5,502.29999999999995) scale(0.85,1)" x="0" y="0" font-size="10.4" text-anchor="end" font-weight="normal" font-style="normal" fill="#111" stroke="#111" stroke-width="0.1" >1</text>
<line x1="364.0" y1="538.5" x2="367.6" y2="538.5" stroke="#231f20" stroke-width="1.1" />
<text transform="translate(360.5,541.5) scale(0.85,1)" x="0" y="0" font-size="10.4" text-anchor="end" font-weight="normal" font-style="normal" fill="#111" stroke="#111" stroke-width="0.1" >0.5</text>
<line x1="364.0" y1="577.6999999999999" x2="367.6" y2="577.6999999999999" stroke="#231f20" stroke-width="1.1" />
<text transform="translate(360.5,580.6999999999999) scale(0.85,1)" x="0" y="0" font-size="10.4" text-anchor="end" font-weight="normal" font-style="normal" fill="#111" stroke="#111" stroke-width="0.1" >0</text>
<text x="375.0" y="506.29999999999995" font-size="8.7" text-anchor="start" font-weight="normal" font-style="normal" fill="#111" stroke="#111" stroke-width="0.18" textLength="74" lengthAdjust="spacingAndGlyphs" >Control without CH</text>
<path d="M383.2,577.7 L403.4,576.9 L413.5,574.9 L423.6,574.3 L431.6,572.3 L437.7,571.3 L441.7,569.6 L448.8,568.6 L458.9,568.6 L458.9,577.7 Z" fill="#e6b91e"/>
<line x1="367.6" y1="598.1" x2="367.6" y2="684.7" stroke="#231f20" stroke-width="1.3" />
<line x1="367.0" y1="684.1" x2="468.2" y2="684.1" stroke="#231f20" stroke-width="1.3" />
<line x1="364.0" y1="601.5" x2="367.6" y2="601.5" stroke="#231f20" stroke-width="1.1" />
<text transform="translate(360.5,604.5) scale(0.85,1)" x="0" y="0" font-size="10.4" text-anchor="end" font-weight="normal" font-style="normal" fill="#111" stroke="#111" stroke-width="0.1" >1</text>
<line x1="364.0" y1="640.7" x2="367.6" y2="640.7" stroke="#231f20" stroke-width="1.1" />
<text transform="translate(360.5,643.7) scale(0.85,1)" x="0" y="0" font-size="10.4" text-anchor="end" font-weight="normal" font-style="normal" fill="#111" stroke="#111" stroke-width="0.1" >0.5</text>
<line x1="364.0" y1="679.9" x2="367.6" y2="679.9" stroke="#231f20" stroke-width="1.1" />
<text transform="translate(360.5,682.9) scale(0.85,1)" x="0" y="0" font-size="10.4" text-anchor="end" font-weight="normal" font-style="normal" fill="#111" stroke="#111" stroke-width="0.1" >0</text>
<line x1="371.2" y1="684.1" x2="371.2" y2="687.4" stroke="#231f20" stroke-width="1.1" />
<text transform="translate(371.2,698.8) scale(0.85,1)" x="0" y="0" font-size="10.0" text-anchor="middle" font-weight="normal" font-style="normal" fill="#111" stroke="#111" stroke-width="0.1" >0</text>
<line x1="389.76" y1="684.1" x2="389.76" y2="687.4" stroke="#231f20" stroke-width="1.1" />
<text transform="translate(389.76,698.8) scale(0.85,1)" x="0" y="0" font-size="10.0" text-anchor="middle" font-weight="normal" font-style="normal" fill="#111" stroke="#111" stroke-width="0.1" >25</text>
<line x1="408.32" y1="684.1" x2="408.32" y2="687.4" stroke="#231f20" stroke-width="1.1" />
<text transform="translate(408.32,698.8) scale(0.85,1)" x="0" y="0" font-size="10.0" text-anchor="middle" font-weight="normal" font-style="normal" fill="#111" stroke="#111" stroke-width="0.1" >50</text>
<line x1="426.88" y1="684.1" x2="426.88" y2="687.4" stroke="#231f20" stroke-width="1.1" />
<text transform="translate(426.88,698.8) scale(0.85,1)" x="0" y="0" font-size="10.0" text-anchor="middle" font-weight="normal" font-style="normal" fill="#111" stroke="#111" stroke-width="0.1" >75</text>
<line x1="445.44" y1="684.1" x2="445.44" y2="687.4" stroke="#231f20" stroke-width="1.1" />
<text transform="translate(445.44,698.8) scale(0.85,1)" x="0" y="0" font-size="10.0" text-anchor="middle" font-weight="normal" font-style="normal" fill="#111" stroke="#111" stroke-width="0.1" >100</text>
<line x1="464.0" y1="684.1" x2="464.0" y2="687.4" stroke="#231f20" stroke-width="1.1" />
<text transform="translate(464.0,698.8) scale(0.85,1)" x="0" y="0" font-size="10.0" text-anchor="middle" font-weight="normal" font-style="normal" fill="#111" stroke="#111" stroke-width="0.1" >125</text>
<text x="375.0" y="608.5" font-size="8.7" text-anchor="start" font-weight="normal" font-style="normal" fill="#111" stroke="#111" stroke-width="0.18" textLength="60.6" lengthAdjust="spacingAndGlyphs" >Control with CH</text>
<path d="M372.1,679.9 L382.2,679.5 L395.3,677.5 L409.4,675.5 L417.5,673.5 L431.6,670.4 L441.7,669.4 L447.8,667.8 L448.2,667.0 L458.3,667.0 L458.3,679.9 Z" fill="#e6b91e"/>
<path d="M409.4,675.7 L417.5,673.7 L431.6,670.6 L441.7,669.6 L447.8,668.0 L448.2,667.2 L458.3,667.2" fill="none" stroke="#a3001f" stroke-width="0.7" stroke-opacity="0.8"/>
<line x1="464.6" y1="440.2" x2="457.39" y2="449.12" stroke="#a3001f" stroke-width="1.3"/>
<path d="M454.5,452.7 L455.69,446.46 L457.27,449.28 L460.35,450.23 Z" fill="#a3001f"/>
<line x1="459.5" y1="648.0" x2="452.80" y2="656.75" stroke="#a3001f" stroke-width="1.3"/>
<path d="M450.0,660.4 L451.02,654.13 L452.68,656.91 L455.79,657.78 Z" fill="#a3001f"/>
<text x="417.9" y="712.6" font-size="10.8" text-anchor="middle" font-weight="normal" font-style="normal" fill="#111" stroke="#111" stroke-width="0.18" textLength="73.3" lengthAdjust="spacingAndGlyphs" >Follow-up (months)</text>
<text transform="translate(342.3,502.7) rotate(-90)" x="0" y="0" font-size="10.5" text-anchor="middle" fill="#111" stroke="#111" stroke-width="0.18" textLength="84.5" lengthAdjust="spacingAndGlyphs">Probability of an event</text>
</svg><div style="position:absolute;left:0;top:0;width:518px;height:744px;border:1px solid #000"></div></body></html>
